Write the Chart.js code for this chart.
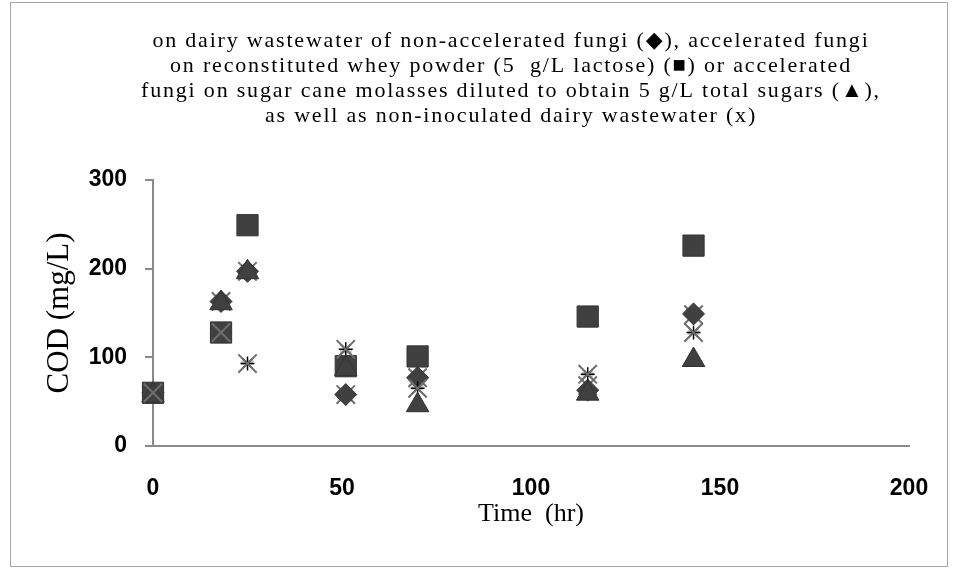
<!DOCTYPE html>
<html>
<head>
<meta charset="utf-8">
<title>COD vs time</title>
<script src="https://cdn.jsdelivr.net/npm/chart.js@4.4.1/dist/chart.umd.min.js"></script>
<style>
  html, body { margin: 0; padding: 0; background: #fff; }
  #wrap { position: relative; width: 953px; height: 572px; }
</style>
</head>
<body>
<div id="wrap"><canvas id="codChart"></canvas></div>
<script>
// sampling times (hr)
const times = [0, 18, 25, 51, 70, 115, 143];
// COD (mg/L)
const nonAccelerated = [60, 163, 197, 58, 77, 63, 149];       // diamonds
const wheyAccelerated = [60, 128, 249, 90, 101, 146, 226];    // squares
const molassesAccelerated = [57, 161, 196, 87, 46, 59, 97];   // triangles
const nonInoculated = [60, 128, 93, 109, 65, 81, 128];        // x (with star)
const nonInoculatedRep = [60, 163, 197, 58, 77, 68, 148];     // x behind others
const dashMarks = [60, 128, 94, 107, 66, 81, 128];            // light grey dashes

const xTicks = [0, 50, 100, 150, 200];
const yTicks = [0, 100, 200, 300];

const titleLines = [
  'on dairy wastewater of non-accelerated fungi (\u25C6), accelerated fungi',
  'on reconstituted whey powder (5  g/L lactose) (\u25A0) or accelerated',
  'fungi on sugar cane molasses diluted to obtain 5 g/L total sugars (\u25B2),',
  'as well as non-inoculated dairy wastewater (x)'
];

function pts(ys) {
  return times.map((t, i) => ({x: t, y: ys[i]}));
}

const frameAndTitle = {
  id: 'frameAndTitle',
  beforeDraw(chart) {
    const c = chart.ctx;
    c.save();
    c.strokeStyle = '#a6a6a6';
    c.lineWidth = 1;
    c.strokeRect(10.5, 2.5, 937, 564);
    c.restore();
  },
  afterDraw(chart) {
    const c = chart.ctx;
    c.save();
    c.fillStyle = '#000';
    c.font = '22px "Liberation Serif", "DejaVu Serif", serif';
    c.textAlign = 'center';
    c.textBaseline = 'alphabetic';
    if ('letterSpacing' in c) c.letterSpacing = '1.8px';
    titleLines.forEach((line, i) => {
      c.fillText(line, 511, 47 + i * 25);
    });
    c.restore();
  }
};

const dark = '#404040';

new Chart(document.getElementById('codChart'), {
  type: 'scatter',
  data: {
    datasets: [
      {
        label: 'non-inoculated dairy wastewater',
        data: pts(nonInoculated),
        pointStyle: 'crossRot',
        radius: 13,
        borderColor: '#6e6e6e',
        borderWidth: 2,
        clip: false
      },
      {
        label: 'accelerated fungi, molasses',
        data: pts(molassesAccelerated),
        pointStyle: 'triangle',
        radius: 13,
        backgroundColor: dark,
        borderColor: '#333',
        borderWidth: 1,
        clip: false
      },
      {
        label: 'accelerated fungi, whey powder',
        data: pts(wheyAccelerated),
        pointStyle: 'rect',
        radius: 15,
        backgroundColor: dark,
        borderColor: '#333',
        borderWidth: 1,
        clip: false
      },
      {
        label: 'non-inoculated (star)',
        data: pts(nonInoculated),
        pointStyle: 'star',
        radius: 7,
        borderColor: '#000',
        borderWidth: 1.5,
        clip: false
      },
      {
        label: 'non-accelerated fungi',
        data: pts(nonAccelerated),
        pointStyle: 'rectRot',
        radius: 11,
        backgroundColor: dark,
        borderColor: '#333',
        borderWidth: 1,
        clip: false
      },
      {
        label: 'non-inoculated (rep)',
        data: pts(nonInoculatedRep),
        pointStyle: 'crossRot',
        radius: 13,
        borderColor: '#6e6e6e',
        borderWidth: 2,
        clip: false
      },
      {
        label: 'dash',
        data: pts(dashMarks),
        pointStyle: 'line',
        radius: 6,
        borderColor: '#c8c8c8',
        borderWidth: 5,
        clip: false
      }
    ]
  },
  options: {
    responsive: true,
    maintainAspectRatio: false,
    animation: false,
    layout: { padding: { top: 180, right: 44, bottom: 0, left: 0 } },
    plugins: {
      legend: { display: false },
      tooltip: { enabled: false }
    },
    scales: {
      x: {
        type: 'linear',
        min: 0,
        max: 200,
        afterFit: s => { s.height = 126; },
        afterBuildTicks: s => { s.ticks = xTicks.map(v => ({value: v})); },
        grid: { display: false },
        border: { display: true, color: '#8a8a8a', width: 2 },
        ticks: {
          padding: 21,
          color: '#000',
          font: { family: '"Liberation Sans", Arial, sans-serif', size: 23, weight: 'bold' }
        },
        title: {
          display: true,
          text: 'Time  (hr)',
          color: '#000',
          font: { family: '"Liberation Serif", serif', size: 26 },
          padding: { top: 0, bottom: 42 }
        }
      },
      y: {
        type: 'linear',
        min: 0,
        max: 300,
        afterFit: s => { s.width = 153; },
        afterBuildTicks: s => { s.ticks = yTicks.map(v => ({value: v})); },
        grid: {
          display: true,
          drawOnChartArea: false,
          drawTicks: true,
          tickLength: 8,
          color: '#8a8a8a',
          lineWidth: 2
        },
        border: { display: true, color: '#8a8a8a', width: 2 },
        ticks: {
          padding: 18,
          color: '#000',
          font: { family: '"Liberation Sans", Arial, sans-serif', size: 23, weight: 'bold' }
        },
        title: {
          display: true,
          text: 'COD (mg/L)',
          color: '#000',
          font: { family: '"Liberation Serif", serif', size: 31 },
          padding: { top: 41, bottom: 0 }
        }
      }
    }
  },
  plugins: [frameAndTitle]
});
</script>
</body>
</html>
